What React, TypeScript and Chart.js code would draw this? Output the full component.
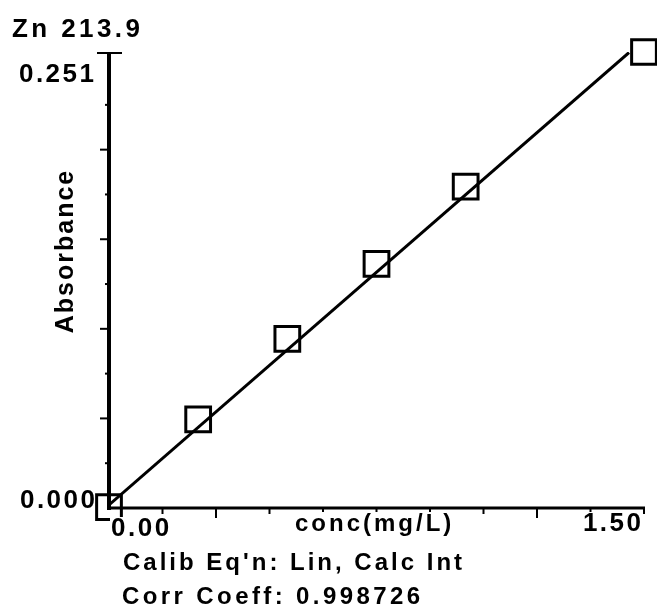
import React, { useEffect, useRef } from "react";
import { Chart, registerables } from "chart.js";

Chart.register(...registerables);

const TITLE = "Zn 213.9";
const Y_AXIS_TITLE = "Absorbance";
const X_AXIS_TITLE = "conc(mg/L)";
const FOOT_LINES = ["Calib Eq'n: Lin, Calc Int", "Corr Coeff: 0.998726"];

// standards: concentration (mg/L) and absorbance
const concentrations = [0, 0.25, 0.5, 0.75, 1.0, 1.5];
const absorbances = [0.0005, 0.0494, 0.0944, 0.1363, 0.1793, 0.2545];

// calibration line endpoints
const fitX = [0, 1.458];
const fitY = [0.0017, 0.2542];

// axis range and tick labels
const xRange = [0, 1.5];
const yRange = [0, 0.2545];
const xTickLabels = ["0.00", "1.50"];
const yTickLabels = ["0.000", "0.251"];
const yMajorTicks = [0.05, 0.1, 0.15, 0.2];
const yMinorTicks = [0.025, 0.075, 0.125, 0.175, 0.225];
const xMajorTicks = [0.3, 0.6, 0.9, 1.2];
const xMinorTicks = [0.15, 0.45, 0.75, 1.05, 1.35, 1.5];

const FAMILY = "'Liberation Sans', Arial, sans-serif";

function setFont(ctx: CanvasRenderingContext2D, size: number, sp: number) {
  ctx.font = `bold ${size}px ${FAMILY}`;
  (ctx as any).letterSpacing = sp + "px";
}

function textW(ctx: CanvasRenderingContext2D, s: string, sp: number) {
  return ctx.measureText(s).width - sp;
}

const decorPlugin = {
  id: "decor",
  afterDatasetsDraw(chart: any) {
    const ctx: CanvasRenderingContext2D = chart.ctx;
    const xs = chart.scales.x;
    const ys = chart.scales.y;
    const x0 = xs.getPixelForValue(xRange[0]);
    const x1 = xs.getPixelForValue(xRange[1]);
    const y0 = ys.getPixelForValue(yRange[0]);
    const y1 = ys.getPixelForValue(yRange[1]);
    ctx.save();
    ctx.strokeStyle = "#000";
    ctx.fillStyle = "#000";
    ctx.lineCap = "butt";
    // axes
    ctx.lineWidth = 4;
    ctx.beginPath();
    ctx.moveTo(x0, y1);
    ctx.lineTo(x0, y0 + 2);
    ctx.stroke();
    ctx.lineWidth = 3;
    ctx.beginPath();
    ctx.moveTo(x0 - 2, y0);
    ctx.lineTo(x1 + 1, y0);
    ctx.stroke();
    // top cap
    ctx.lineWidth = 2;
    ctx.beginPath();
    ctx.moveTo(x0 - 12, y1 + 1);
    ctx.lineTo(x0 + 13, y1 + 1);
    ctx.stroke();
    // y ticks
    ctx.lineWidth = 2;
    for (const v of yMajorTicks) {
      const p = ys.getPixelForValue(v);
      ctx.beginPath();
      ctx.moveTo(x0 - 9, p);
      ctx.lineTo(x0, p);
      ctx.stroke();
    }
    for (const v of yMinorTicks) {
      const p = ys.getPixelForValue(v);
      ctx.beginPath();
      ctx.moveTo(x0 - 4, p);
      ctx.lineTo(x0, p);
      ctx.stroke();
    }
    // x ticks
    for (const v of xMajorTicks) {
      const p = xs.getPixelForValue(v);
      ctx.beginPath();
      ctx.moveTo(p, y0);
      ctx.lineTo(p, y0 + 10);
      ctx.stroke();
    }
    for (const v of xMinorTicks) {
      const p = xs.getPixelForValue(v);
      ctx.beginPath();
      ctx.moveTo(p, y0);
      ctx.lineTo(p, y0 + 6);
      ctx.stroke();
    }

    ctx.textBaseline = "alphabetic";
    ctx.textAlign = "left";

    const masked = (s: string, x: number, base: number, sp: number) => {
      const w = textW(ctx, s, sp);
      ctx.fillStyle = "#fff";
      ctx.fillRect(x - 1, base - 19, w + 2, 24);
      ctx.fillStyle = "#000";
      ctx.fillText(s, x, base);
    };

    // title
    setFont(ctx, 26, 3.4);
    ctx.fillText(TITLE, 12, 37);
    // y tick labels
    setFont(ctx, 26, 2.5);
    ctx.fillText(yTickLabels[1], 94 - textW(ctx, yTickLabels[1], 2.5), 82);
    ctx.fillText(yTickLabels[0], 95 - textW(ctx, yTickLabels[0], 2.5), 508);
    // x tick labels
    masked(xTickLabels[0], x0 + 2, 536, 2.5);
    masked(xTickLabels[1], x1 - 3 - textW(ctx, xTickLabels[1], 2.5), 531, 2.5);
    setFont(ctx, 24, 3);
    masked(X_AXIS_TITLE, 295, 531, 3);
    // footer
    ctx.fillText(FOOT_LINES[0], 123, 570);
    setFont(ctx, 24, 3.4);
    ctx.fillText(FOOT_LINES[1], 122, 604);
    // y axis title
    ctx.save();
    setFont(ctx, 25, 2);
    ctx.translate(66, 251);
    ctx.rotate(-Math.PI / 2);
    ctx.textAlign = "center";
    ctx.textBaseline = "middle";
    ctx.fillText(Y_AXIS_TITLE, 0, 0);
    ctx.restore();
    ctx.restore();
  },
};

export default function App() {
  const ref = useRef<HTMLCanvasElement | null>(null);
  useEffect(() => {
    document.body.style.margin = "0";
    document.body.style.background = "#fff";
    if (!ref.current) return;
    const chart = new Chart(ref.current, {
      type: "scatter",
      data: {
        datasets: [
          {
            type: "line",
            data: fitX.map((x, i) => ({ x, y: fitY[i] })),
            borderColor: "#000",
            borderWidth: 3,
            pointRadius: 0,
            fill: false,
          } as any,
          {
            type: "scatter",
            data: concentrations.map((x, i) => ({ x, y: absorbances[i] })),
            pointStyle: "rect",
            pointRadius: 17.5,
            borderColor: "#000",
            borderWidth: 3,
            backgroundColor: "rgba(0,0,0,0)",
            clip: false,
          } as any,
        ],
      },
      options: {
        animation: false,
        responsive: false,
        devicePixelRatio: 1,
        layout: { autoPadding: false, padding: { left: 109, right: 13, top: 52, bottom: 101 } },
        plugins: { legend: { display: false }, tooltip: { enabled: false } },
        scales: {
          x: { type: "linear", min: xRange[0], max: xRange[1], display: false },
          y: { type: "linear", min: yRange[0], max: yRange[1], display: false },
        },
      },
      plugins: [decorPlugin],
    });
    return () => chart.destroy();
  }, []);
  return <canvas ref={ref} width={657} height={609} style={{ display: "block" }} />;
}
